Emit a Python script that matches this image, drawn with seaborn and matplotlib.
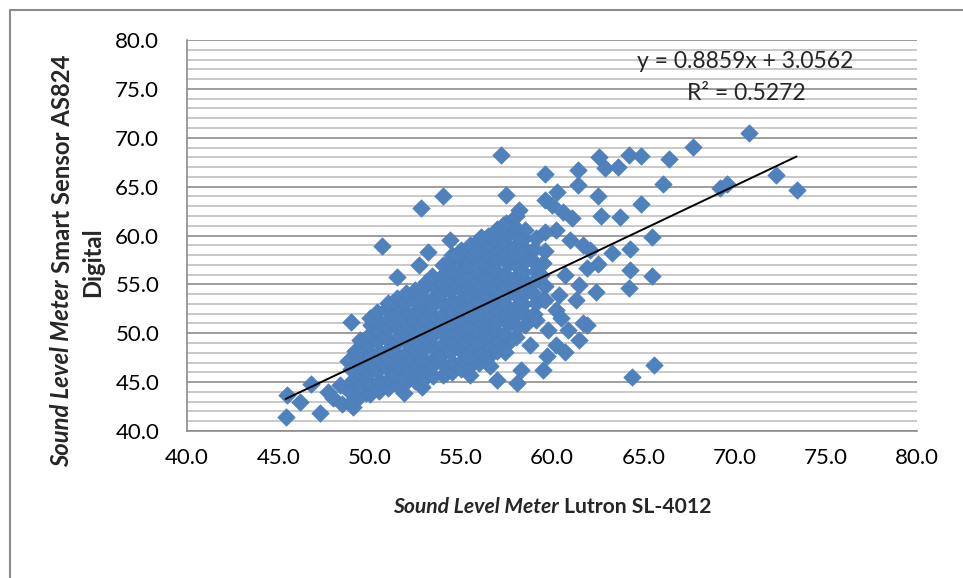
import numpy as np
import pandas as pd
import seaborn as sns
import matplotlib.pyplot as plt
from matplotlib.lines import Line2D

sns.set_style("white")
plt.rcParams['font.family'] = ['Lato', 'DejaVu Sans']

# readings (Lutron SL-4012, Smart Sensor AS824), estimated off the chart
left_tail = [(45.4, 41.4), (45.5, 43.7), (46.2, 43.0), (46.8, 44.8), (47.3, 41.8),
             (47.7, 44.0), (48.0, 43.4), (48.5, 42.8), (49.1, 42.5), (48.4, 44.7),
             (49.0, 51.2), (49.2, 48.2), (49.8, 43.9), (51.9, 43.9), (52.9, 44.5),
             (54.2, 45.9), (55.5, 45.7)]

core_left = [(49.0, 43.0), (48.9, 44.1), (49.1, 45.2), (49.0, 46.3), (48.8, 47.2),
             (49.5, 43.6), (49.4, 44.6), (49.6, 45.7), (49.5, 46.6), (49.4, 47.6), (49.6, 48.6), (49.5, 49.3),
             (50.0, 43.8), (50.1, 44.8), (49.9, 45.9), (50.0, 46.9), (50.1, 47.9), (49.9, 48.9),
             (50.0, 49.9), (50.1, 50.8), (50.0, 51.6),
             (50.5, 44.1), (50.6, 45.1), (50.4, 46.1), (50.5, 47.2), (50.6, 48.1), (50.4, 49.2),
             (50.5, 50.2), (50.6, 51.2), (50.4, 52.2),
             (51.0, 44.4), (51.1, 45.4), (50.9, 46.5), (51.0, 47.4), (51.1, 48.5), (50.9, 49.5),
             (51.0, 50.5), (51.1, 51.5), (50.9, 52.5), (51.0, 53.1),
             (51.5, 44.7), (51.4, 45.7), (51.6, 46.8), (51.5, 47.8), (51.4, 48.8), (51.6, 49.7),
             (51.5, 50.8), (51.4, 51.8), (51.6, 52.8), (51.5, 53.6),
             (52.0, 45.0), (52.1, 46.0), (51.9, 47.1), (52.0, 48.0), (52.1, 49.0), (51.9, 50.1),
             (52.0, 51.0), (52.1, 52.0), (51.9, 53.1), (52.0, 54.1),
             (52.5, 45.1), (52.6, 46.2), (52.4, 47.2), (52.5, 48.3), (52.6, 49.2), (52.4, 50.3),
             (52.5, 51.3), (52.6, 52.3), (52.4, 53.4), (52.5, 54.4)]

core_mid = [(53.0, 45.3), (53.1, 46.4), (52.9, 47.4), (53.0, 48.4), (53.1, 49.5), (52.9, 50.5),
            (53.0, 51.5), (53.1, 52.6), (52.9, 53.6), (53.0, 54.6), (53.1, 55.2),
            (53.5, 45.6), (53.4, 46.6), (53.6, 47.6), (53.5, 48.7), (53.4, 49.7), (53.6, 50.7),
            (53.5, 51.8), (53.4, 52.8), (53.6, 53.8), (53.5, 54.9), (53.4, 55.9),
            (54.0, 45.7), (54.1, 46.8), (53.9, 47.8), (54.0, 48.9), (54.1, 49.9), (53.9, 51.0),
            (54.0, 52.0), (54.1, 53.0), (53.9, 54.1), (54.0, 55.1), (54.1, 56.1), (54.0, 57.0),
            (54.5, 46.0), (54.6, 47.0), (54.4, 48.1), (54.5, 49.1), (54.6, 50.2), (54.4, 51.2),
            (54.5, 52.2), (54.6, 53.3), (54.4, 54.3), (54.5, 55.4), (54.6, 56.4), (54.4, 57.4), (54.5, 58.0),
            (55.0, 46.3), (55.1, 47.3), (54.9, 48.4), (55.0, 49.4), (55.1, 50.4), (54.9, 51.5),
            (55.0, 52.5), (55.1, 53.6), (54.9, 54.6), (55.0, 55.6), (55.1, 56.7), (54.9, 57.7), (55.0, 58.5),
            (55.5, 46.6), (55.4, 47.6), (55.6, 48.7), (55.5, 49.7), (55.4, 50.7), (55.6, 51.8),
            (55.5, 52.8), (55.4, 53.8), (55.6, 54.9), (55.5, 55.9), (55.4, 57.0), (55.6, 58.0), (55.5, 59.0),
            (56.0, 47.0), (56.1, 48.0), (55.9, 49.0), (56.0, 50.1), (56.1, 51.1), (55.9, 52.1),
            (56.0, 53.2), (56.1, 54.2), (55.9, 55.2), (56.0, 56.3), (56.1, 57.3), (55.9, 58.4), (56.0, 59.5)]

core_right = [(56.5, 47.6), (56.6, 48.6), (56.4, 49.6), (56.5, 50.7), (56.6, 51.7), (56.4, 52.7),
              (56.5, 53.8), (56.6, 54.8), (56.4, 55.8), (56.5, 56.9), (56.6, 57.9), (56.4, 58.9), (56.5, 59.9),
              (57.0, 48.2), (57.1, 49.2), (56.9, 50.3), (57.0, 51.3), (57.1, 52.3), (56.9, 53.4),
              (57.0, 54.4), (57.1, 55.4), (56.9, 56.5), (57.0, 57.5), (57.1, 58.5), (56.9, 59.6), (57.0, 60.7),
              (57.5, 48.8), (57.4, 49.9), (57.6, 50.9), (57.5, 51.9), (57.4, 53.0), (57.6, 54.0),
              (57.5, 55.0), (57.4, 56.1), (57.6, 57.1), (57.5, 58.1), (57.4, 59.2), (57.6, 60.2), (57.5, 61.3),
              (58.0, 49.6), (58.1, 50.6), (57.9, 51.7), (58.0, 52.7), (58.1, 53.8), (57.9, 54.8),
              (58.0, 55.8), (58.1, 56.9), (57.9, 57.9), (58.0, 58.9), (58.1, 60.0), (57.9, 61.0), (58.0, 62.0),
              (58.5, 50.8), (58.6, 51.9), (58.4, 53.0), (58.5, 54.1), (58.6, 55.2), (58.4, 56.3),
              (58.5, 57.4), (58.6, 58.5), (58.4, 59.6), (58.5, 60.6),
              (59.0, 52.0), (59.1, 53.1), (58.9, 54.2), (59.0, 55.3), (59.1, 56.4), (58.9, 57.5),
              (59.0, 58.6), (59.1, 59.7),
              (59.5, 53.5), (59.6, 54.8), (59.4, 56.0), (59.5, 57.2), (59.6, 58.4)]

upper_spread = [(50.7, 58.9), (51.5, 55.8), (52.8, 62.8), (54.0, 64.0), (53.2, 58.3), (52.7, 57.0),
                (54.4, 59.5), (54.8, 58.0), (56.1, 59.8), (57.3, 61.1), (58.2, 62.6), (57.2, 68.2),
                (57.5, 64.1), (59.6, 66.3), (59.6, 63.6), (60.3, 64.4), (60.0, 63.1), (60.6, 62.4),
                (61.4, 65.2), (61.4, 66.7), (61.1, 61.8), (60.2, 60.6), (59.6, 60.4), (61.0, 59.5),
                (61.7, 59.0), (62.1, 58.5), (62.5, 57.1), (61.9, 56.7), (60.7, 56.0), (61.5, 54.9),
                (62.4, 54.2), (60.4, 53.9), (59.6, 53.4), (61.3, 53.4), (60.2, 52.4)]

lower_spread = [(57.0, 45.2), (58.1, 44.9), (58.3, 46.2), (56.6, 46.6), (57.4, 48.1), (58.8, 48.8),
                (59.5, 46.2), (59.7, 47.7), (60.2, 48.8), (60.7, 48.1), (60.9, 50.3), (61.5, 49.3),
                (61.9, 50.8), (60.5, 51.6), (59.1, 51.4), (59.8, 50.3), (61.7, 51.0)]

right_tail = [(62.5, 64.0), (62.7, 62.0), (63.7, 61.9), (62.6, 68.0), (62.9, 66.9), (63.6, 67.0),
              (64.2, 68.2), (64.9, 68.1), (66.4, 67.8), (67.7, 69.1), (66.1, 65.3), (64.9, 63.2),
              (65.5, 59.8), (64.3, 58.6), (63.3, 58.2), (64.3, 56.5), (65.5, 55.9), (64.2, 54.6),
              (64.4, 45.5), (65.6, 46.8), (70.8, 70.5), (69.2, 64.9), (69.6, 65.3), (72.3, 66.2),
              (73.4, 64.7)]

slope = 0.8859
intercept = 3.0562
r_squared = 0.5272

x_ticks = [40, 45, 50, 55, 60, 65, 70, 75, 80]
y_ticks = [40, 45, 50, 55, 60, 65, 70, 75, 80]

points = left_tail + core_left + core_mid + core_right + upper_spread + lower_spread + right_tail
df = pd.DataFrame(points, columns=['lutron', 'as824'])

W, H = 963, 578
fig = plt.figure(figsize=(W / 100, H / 100), dpi=100)
ax = fig.add_axes([187 / W, 1 - 431 / H, 730 / W, 391 / H])

sns.scatterplot(data=df, x='lutron', y='as824', marker='D', s=80, color='#4F81BD',
                edgecolor='#4A7EBB', linewidth=0.4, ax=ax, zorder=3, legend=False)

xs = np.array([df['lutron'].min(), df['lutron'].max()])
ax.plot(xs, slope * xs + intercept, color='black', lw=1.4, zorder=4)

ax.set_xlim(40, 80)
ax.set_ylim(40, 80)
ax.set_xticks(x_ticks)
ax.set_yticks(y_ticks)
ax.set_yticks(np.arange(40, 81, 1), minor=True)
ax.set_xticklabels([f"{v:.1f}" for v in x_ticks])
ax.set_yticklabels([f"{v:.1f}" for v in y_ticks])
ax.set_xlabel('')
ax.set_ylabel('')

ax.yaxis.grid(True, which='major', color='#8C8C8C', lw=1.2)
ax.yaxis.grid(True, which='minor', color='#C0C0C0', lw=1.2)
ax.xaxis.grid(False)
ax.set_axisbelow(True)
for side in ['top', 'right']:
    ax.spines[side].set_visible(False)
for side in ['left', 'bottom']:
    ax.spines[side].set_color('#8C8C8C')
    ax.spines[side].set_linewidth(1.2)
ax.tick_params(axis='both', which='major', direction='out', length=7, width=1.2,
               color='#8C8C8C', labelsize=16, labelcolor='black')
ax.tick_params(axis='y', which='major', pad=13)
ax.tick_params(axis='x', which='major', pad=5)
ax.tick_params(which='minor', length=0)

# trendline label
ax.text(745 / W, 1 - 62 / H, f"y = {slope}x + {intercept}", transform=fig.transFigure,
        ha='center', va='center', fontsize=16.5)
ax.text(746 / W, 1 - 94 / H, f"R² = {r_squared}", transform=fig.transFigure,
        ha='center', va='center', fontsize=16.5)


def mixed_label(cx, cy, parts, rotation=0, size=14):
    # parts drawn one after another, centred as a whole at (cx, cy) pixels
    fig.canvas.draw()
    r = fig.canvas.get_renderer()
    gap = size * 100 / 72 * 0.26
    texts, lengths = [], []
    for txt, style in parts:
        t = fig.text(0, 0, txt, fontsize=size, fontweight='bold', fontstyle=style,
                     rotation=rotation)
        bb = t.get_window_extent(r)
        lengths.append(bb.height if rotation else bb.width)
        texts.append(t)
    total = sum(lengths) + gap * (len(parts) - 1)
    pos = -total / 2
    for t, ln in zip(texts, lengths):
        if rotation:
            t.set_position((cx / W, 1 - (cy - pos) / H))
            t.set_ha('center')
            t.set_va('bottom')
        else:
            t.set_position(((cx + pos) / W, 1 - cy / H))
            t.set_ha('left')
            t.set_va('center')
        pos += ln + gap


mixed_label(552, 507, [('Sound Level Meter', 'italic'), ('Lutron SL-4012', 'normal')], size=15.2)
mixed_label(62, 261, [('Sound Level Meter', 'italic'), ('Smart Sensor AS824', 'normal')],
            rotation=90, size=17.2)
fig.text(93 / W, 1 - 262 / H, 'Digital', fontsize=17.2, fontweight='bold', rotation=90,
         ha='center', va='center')

# chart frame
fig.add_artist(Line2D([10 / W, 1], [1 - 10 / H, 1 - 10 / H], color='#8C8C8C', lw=1.5))
fig.add_artist(Line2D([10 / W, 10 / W], [1 - 10 / H, 0], color='#8C8C8C', lw=1.5))

fig.savefig('out.png', dpi=100)
